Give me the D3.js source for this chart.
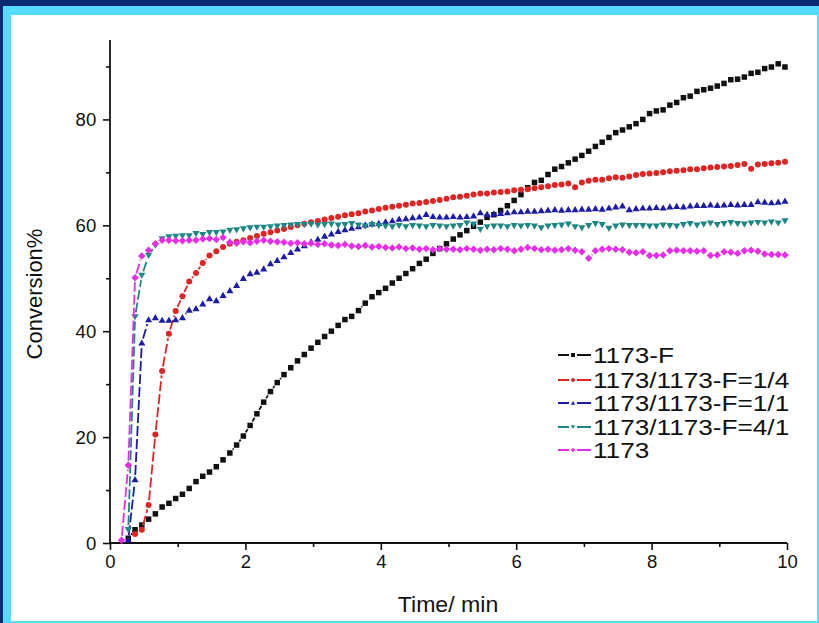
<!DOCTYPE html>
<html><head><meta charset="utf-8">
<script src="https://cdn.jsdelivr.net/npm/d3@7"></script>
<style>body{margin:0;background:#fff}svg{display:block}text{font-family:Arial,"Liberation Sans",sans-serif;fill:#111}</style>
</head><body><svg id="c" width="819" height="623"></svg>
<script>
// sampling times (min)
const time = [0.17,0.27,0.37,0.47,0.57,0.67,0.77,0.87,0.97,1.07,1.17,1.27,1.37,1.47,1.57,1.67,1.77,1.87,1.97,2.07,
2.17,2.27,2.37,2.47,2.57,2.67,2.77,2.87,2.97,3.07,3.17,3.27,3.37,3.47,3.57,3.67,3.77,3.87,3.97,4.07,
4.17,4.27,4.37,4.47,4.57,4.67,4.77,4.87,4.97,5.07,5.17,5.27,5.37,5.47,5.57,5.67,5.77,5.87,5.97,6.07,
6.17,6.27,6.37,6.47,6.57,6.67,6.77,6.87,6.97,7.07,7.17,7.27,7.37,7.47,7.57,7.67,7.77,7.87,7.97,8.07,
8.17,8.27,8.37,8.47,8.57,8.67,8.77,8.87,8.97,9.07,9.17,9.27,9.37,9.47,9.57,9.67,9.77,9.87,9.97];

const seriesNames = ["1173-F","1173/1173-F=1/4","1173/1173-F=1/1","1173/1173-F=4/1","1173"];

const conv1173F = [null,0.9,2.5,3.4,4.5,5.5,6.8,7.5,8.4,9.2,10.3,11.6,12.6,13.4,14.4,15.7,17.0,18.5,20.2,22.2,
24.4,26.6,28.6,30.3,31.8,33.1,34.4,35.6,36.8,37.9,39.0,40.0,41.1,42.2,42.8,43.9,45.3,46.5,47.3,48.1,
49.1,50.0,50.9,51.8,52.8,53.6,54.7,55.6,56.5,57.4,58.2,59.0,59.8,60.6,61.5,62.0,62.8,63.7,64.7,65.8,
67.1,68.1,68.5,69.6,70.6,71.1,71.8,72.5,73.2,74.0,74.9,75.7,76.6,77.5,78.0,78.6,79.2,80.0,81.1,81.6,
81.8,82.7,83.2,84.1,84.4,85.3,85.6,85.9,86.3,86.8,87.5,87.6,88.0,88.7,88.9,89.6,89.9,90.5,89.9];

const conv14 = [null,null,1.7,2.5,7.2,20.5,32.5,39.5,43.8,46.6,49.4,51.0,52.9,54.3,55.1,55.9,56.5,56.9,57.2,57.6,
58.0,58.4,58.7,59.0,59.3,59.7,60.0,60.3,60.6,60.8,61.1,61.4,61.6,61.9,62.1,62.3,62.6,62.8,63.1,63.3,
63.5,63.7,63.9,64.1,64.2,64.4,64.6,64.8,65.0,65.3,65.4,65.6,65.8,66.0,66.0,66.2,66.3,66.4,66.6,66.7,
66.8,67.0,67.2,67.4,67.6,67.7,67.9,67.2,68.1,68.4,68.6,68.6,68.9,69.1,69.0,69.2,69.5,69.7,69.8,69.9,
70.0,70.2,70.3,70.4,70.6,70.6,70.8,70.9,71.0,71.1,71.2,71.4,71.6,70.7,71.5,71.6,71.7,71.8,72.0];

const conv11 = [null,0.6,12.0,37.8,42.2,42.6,42.1,42.1,42.2,42.6,44.0,44.3,45.2,46.2,45.8,46.8,47.7,48.7,50.0,50.9,
51.2,51.8,52.8,53.4,54.1,54.9,55.6,56.2,56.9,57.4,58.0,58.4,58.9,59.2,59.5,59.8,60.1,60.3,60.4,60.7,
60.9,61.2,61.3,61.5,61.6,62.1,61.7,61.6,61.6,61.7,61.6,61.7,61.8,62.4,62.1,62.2,62.3,62.4,62.6,62.6,
62.7,62.7,62.8,62.9,63.0,62.9,63.0,63.0,63.1,63.1,63.2,63.1,63.3,63.5,63.7,63.0,63.2,63.3,63.3,63.4,
63.3,63.5,63.6,63.5,63.7,63.8,63.8,63.9,63.8,63.9,64.0,63.9,64.0,64.0,64.5,64.4,64.3,64.4,64.6];

const conv41 = [null,2.5,42.7,50.5,54.3,56.2,57.4,57.8,57.9,58.0,58.0,58.4,58.2,58.6,58.6,58.7,59.0,59.1,59.3,59.5,
59.6,59.6,59.7,59.8,59.9,60.0,60.1,60.1,60.2,60.0,60.1,60.2,60.0,60.1,60.3,60.0,59.8,60.1,59.9,59.8,
59.7,59.9,59.7,59.9,59.8,59.7,59.9,59.8,59.7,59.8,59.9,60.4,60.2,59.2,59.7,59.8,59.8,59.7,59.9,59.8,
59.9,59.8,59.5,59.8,59.9,60.0,60.2,59.7,59.5,59.9,60.3,60.1,59.4,59.8,60.0,59.9,59.9,59.9,59.8,59.8,
60.0,59.9,59.8,60.1,60.3,60.0,60.2,60.4,60.1,60.3,60.5,60.3,60.2,60.4,60.5,60.4,60.6,60.4,60.8];

const conv1173 = [0.5,14.7,50.1,54.2,55.3,56.5,57.2,57.2,57.1,57.1,57.2,57.2,57.4,57.5,57.3,57.7,56.8,56.6,56.9,56.7,
57.0,57.2,57.0,56.9,56.8,56.6,56.7,56.5,56.6,56.4,56.5,56.3,56.2,56.4,56.1,56.0,56.2,55.9,56.0,55.8,
55.7,55.9,55.6,55.7,55.5,55.6,55.4,55.6,55.5,55.5,55.4,55.6,55.5,55.3,55.5,55.4,55.6,55.5,55.2,55.5,
55.8,55.6,55.4,55.5,55.3,55.4,55.6,55.3,55.0,53.8,55.2,55.5,55.6,55.5,55.4,54.9,54.8,55.0,54.3,54.3,
54.4,55.2,55.3,55.2,55.2,55.1,55.2,54.3,54.4,55.0,54.9,54.7,55.2,55.3,55.1,54.6,54.5,54.5,54.4];

const seriesValues = [conv1173F, conv14, conv11, conv41, conv1173];
const seriesColors = ["#111111","#e02424","#1c1ca8","#1f8686","#e52ee5"];
const seriesMarkers = ["square","circle","triangle","triangleDown","diamond"];

const xTicks = [0,2,4,6,8,10];
const xMinor = [1,3,5,7,9];
const yTicks = [0,20,40,60,80];
const yMinor = [10,30,50,70,90];

const svg = d3.select("#c");
// frame
svg.append("rect").attr("x",0).attr("y",0).attr("width",819).attr("height",623).attr("fill","#0a2b6e");
svg.append("rect").attr("x",3).attr("y",6).attr("width",816).attr("height",617).attr("fill","#55dbff");
svg.append("rect").attr("x",11).attr("y",15).attr("width",806).attr("height",606).attr("fill","#ffffff");

const x = d3.scaleLinear().domain([0,10]).range([110,787]);
const y = d3.scaleLinear().domain([0,95]).range([543,40]);

function stext(g, px, py, str, size, anchor, sx, extra) {
  return g.append("text")
    .attr("transform", `translate(${px},${py}) scale(${sx},1)` + (extra||""))
    .attr("text-anchor", anchor)
    .style("font-size", size + "px")
    .text(str);
}

// axes
const TSX = 1.06;
const gx = svg.append("g").attr("transform","translate(0,543)");
gx.call(d3.axisBottom(x).tickValues(xTicks).tickSize(7).tickPadding(6).tickFormat(d3.format("d")));
gx.append("g").call(d3.axisBottom(x).tickValues(xMinor).tickSize(4).tickFormat(""));
const gy = svg.append("g").attr("transform","translate(110,0)");
gy.call(d3.axisLeft(y).tickValues(yTicks).tickSize(7).tickPadding(6).tickFormat(d3.format("d")));
gy.append("g").call(d3.axisLeft(y).tickValues(yMinor).tickSize(4).tickFormat(""));
svg.selectAll(".domain").remove();
svg.selectAll(".tick line").attr("stroke","#111").attr("stroke-width",1.6);
svg.selectAll(".tick text").style("font-size","17.5px").style("font-family","Arial, 'Liberation Sans', sans-serif").attr("fill","#111");
gx.selectAll(".tick text").attr("transform",`scale(${TSX},1)`);
gy.selectAll(".tick text").attr("transform",`scale(${TSX},1)`).attr("dy","0.35em");
svg.append("line").attr("x1",x(0)).attr("x2",x(10)).attr("y1",y(0)).attr("y2",y(0)).attr("stroke","#111").attr("stroke-width",1.8);
svg.append("line").attr("x1",x(0)).attr("x2",x(0)).attr("y1",y(0)).attr("y2",y(95)).attr("stroke","#111").attr("stroke-width",1.8);

stext(svg, 448, 612, "Time/ min", 22, "middle", 1.05);
stext(svg, 42, 294, "Conversion%", 22, "middle", 1.0, " rotate(-90)");

// markers
function markerPath(type, s) {
  const h = s/2;
  switch(type) {
    case "square": return `M${-h},${-h}H${h}V${h}H${-h}Z`;
    case "circle": return `M${-h},0A${h},${h} 0 1,0 ${h},0A${h},${h} 0 1,0 ${-h},0Z`;
    case "triangle": return `M0,${-h*1.05}L${h*1.1},${h*0.85}L${-h*1.1},${h*0.85}Z`;
    case "triangleDown": return `M0,${h*1.05}L${h*1.1},${-h*0.85}L${-h*1.1},${-h*0.85}Z`;
    case "diamond": return `M0,${-h*1.15}L${h*1.15},0L0,${h*1.15}L${-h*1.15},0Z`;
  }
}
const mSize = {square:5.5, circle:6, triangle:6.5, triangleDown:6.5, diamond:6.5};
const GAP = 4.5;

seriesValues.forEach((vals, si) => {
  const pts = [];
  vals.forEach((v, i) => { if (v !== null) pts.push([x(time[i]), y(v)]); });
  const g = svg.append("g");
  for (let i = 0; i < pts.length - 1; i++) {
    const [x1,y1] = pts[i], [x2,y2] = pts[i+1];
    const dx = x2-x1, dy = y2-y1, d = Math.hypot(dx,dy);
    if (d <= 2*GAP + 1) continue;
    const ux = dx/d, uy = dy/d;
    g.append("line").attr("x1",x1+ux*GAP).attr("y1",y1+uy*GAP).attr("x2",x2-ux*GAP).attr("y2",y2-uy*GAP)
      .attr("stroke",seriesColors[si]).attr("stroke-width",1.8).attr("stroke-dasharray","10,3");
  }
  g.selectAll("path").data(pts).join("path")
    .attr("transform", p => `translate(${p[0]},${p[1]})`)
    .attr("d", markerPath(seriesMarkers[si], mSize[seriesMarkers[si]]))
    .attr("fill", seriesColors[si]);
});

// legend
const legY = [355, 380, 403, 427, 450];
const lg = svg.append("g");
seriesNames.forEach((name, i) => {
  const yy = legY[i];
  lg.append("line").attr("x1",558).attr("x2",569).attr("y1",yy).attr("y2",yy).attr("stroke",seriesColors[i]).attr("stroke-width",2);
  lg.append("line").attr("x1",577).attr("x2",591).attr("y1",yy).attr("y2",yy).attr("stroke",seriesColors[i]).attr("stroke-width",2);
  lg.append("path").attr("transform",`translate(573,${yy})`).attr("d",markerPath(seriesMarkers[i],4)).attr("fill",seriesColors[i]);
  stext(lg, 593, yy+7.8, name, 22, "start", 1.19);
});
</script></body></html>
